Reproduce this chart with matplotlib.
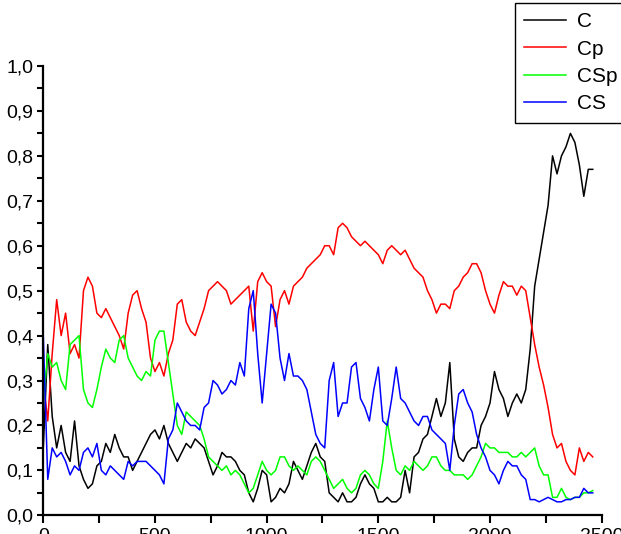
import numpy as np
import matplotlib
matplotlib.use("Agg")
import matplotlib.pyplot as plt
from matplotlib.ticker import MultipleLocator, FuncFormatter

plt.rcParams['font.family'] = ['Liberation Sans', 'DejaVu Sans']

# sampling positions (step 20)
steps = list(range(0, 2461, 20))

C = [0.15, 0.38, 0.22, 0.15, 0.20, 0.14, 0.12, 0.21, 0.11, 0.08,
     0.06, 0.07, 0.11, 0.12, 0.16, 0.14, 0.18, 0.15, 0.13, 0.13,
     0.10, 0.12, 0.14, 0.16, 0.18, 0.19, 0.17, 0.20, 0.16, 0.14,
     0.12, 0.14, 0.16, 0.15, 0.17, 0.16, 0.15, 0.12, 0.09, 0.11,
     0.14, 0.13, 0.13, 0.12, 0.10, 0.09, 0.05, 0.03, 0.06, 0.10,
     0.09, 0.03, 0.04, 0.06, 0.05, 0.07, 0.12, 0.10, 0.08, 0.11,
     0.14, 0.16, 0.13, 0.12, 0.05, 0.04, 0.03, 0.05, 0.03, 0.03,
     0.04, 0.07, 0.09, 0.07, 0.06, 0.03, 0.03, 0.04, 0.03, 0.03,
     0.04, 0.10, 0.05, 0.13, 0.14, 0.17, 0.18, 0.22, 0.26, 0.22,
     0.25, 0.34, 0.17, 0.13, 0.12, 0.14, 0.15, 0.15, 0.20, 0.22,
     0.25, 0.32, 0.28, 0.26, 0.22, 0.25, 0.27, 0.25, 0.28, 0.37,
     0.51, 0.57, 0.63, 0.69, 0.80, 0.76, 0.80, 0.82, 0.85, 0.83,
     0.78, 0.71, 0.77, 0.77]

Cp = [0.30, 0.21, 0.36, 0.48, 0.40, 0.45, 0.36, 0.38, 0.35, 0.50,
      0.53, 0.51, 0.45, 0.44, 0.46, 0.44, 0.42, 0.40, 0.37, 0.45,
      0.49, 0.50, 0.46, 0.43, 0.35, 0.32, 0.34, 0.31, 0.36, 0.39,
      0.47, 0.48, 0.43, 0.41, 0.40, 0.43, 0.46, 0.50, 0.51, 0.52,
      0.51, 0.50, 0.47, 0.48, 0.49, 0.50, 0.51, 0.41, 0.52, 0.54,
      0.52, 0.51, 0.42, 0.48, 0.50, 0.47, 0.51, 0.52, 0.53, 0.55,
      0.56, 0.57, 0.58, 0.60, 0.60, 0.58, 0.64, 0.65, 0.64, 0.62,
      0.61, 0.60, 0.61, 0.60, 0.59, 0.58, 0.56, 0.59, 0.60, 0.59,
      0.58, 0.59, 0.57, 0.55, 0.54, 0.53, 0.50, 0.48, 0.45, 0.47,
      0.47, 0.46, 0.50, 0.51, 0.53, 0.54, 0.56, 0.56, 0.54, 0.50,
      0.47, 0.45, 0.49, 0.52, 0.51, 0.51, 0.49, 0.51, 0.50, 0.44,
      0.38, 0.33, 0.29, 0.24, 0.18, 0.15, 0.16, 0.12, 0.10, 0.09,
      0.15, 0.12, 0.14, 0.13]

CSp = [0.25, 0.36, 0.33, 0.34, 0.30, 0.28, 0.38, 0.39, 0.40, 0.28,
       0.25, 0.24, 0.28, 0.33, 0.37, 0.35, 0.34, 0.39, 0.40, 0.35,
       0.33, 0.31, 0.30, 0.32, 0.31, 0.39, 0.41, 0.41, 0.34, 0.27,
       0.20, 0.18, 0.23, 0.22, 0.21, 0.20, 0.17, 0.13, 0.12, 0.11,
       0.10, 0.11, 0.09, 0.10, 0.09, 0.07, 0.05, 0.06, 0.09, 0.12,
       0.10, 0.09, 0.10, 0.13, 0.13, 0.11, 0.10, 0.11, 0.10, 0.09,
       0.12, 0.13, 0.12, 0.10, 0.08, 0.06, 0.07, 0.08, 0.06, 0.05,
       0.06, 0.09, 0.10, 0.09, 0.07, 0.06, 0.12, 0.21, 0.15, 0.10,
       0.09, 0.11, 0.10, 0.12, 0.11, 0.10, 0.11, 0.13, 0.13, 0.11,
       0.10, 0.10, 0.09, 0.09, 0.09, 0.08, 0.09, 0.11, 0.13, 0.16,
       0.15, 0.15, 0.14, 0.14, 0.14, 0.13, 0.13, 0.14, 0.13, 0.14,
       0.15, 0.11, 0.09, 0.09, 0.04, 0.04, 0.06, 0.04, 0.035, 0.04,
       0.04, 0.05, 0.05, 0.055]

CS = [0.40, 0.08, 0.15, 0.13, 0.14, 0.12, 0.09, 0.11, 0.10, 0.14,
      0.15, 0.13, 0.16, 0.10, 0.09, 0.11, 0.10, 0.09, 0.08, 0.12,
      0.11, 0.12, 0.12, 0.12, 0.11, 0.10, 0.09, 0.07, 0.17, 0.19,
      0.25, 0.23, 0.21, 0.20, 0.20, 0.19, 0.24, 0.25, 0.30, 0.29,
      0.27, 0.28, 0.30, 0.29, 0.34, 0.31, 0.46, 0.50, 0.36, 0.25,
      0.36, 0.47, 0.45, 0.35, 0.30, 0.36, 0.31, 0.31, 0.30, 0.28,
      0.23, 0.18, 0.16, 0.15, 0.30, 0.34, 0.22, 0.25, 0.25, 0.33,
      0.34, 0.26, 0.24, 0.21, 0.28, 0.33, 0.21, 0.20, 0.26, 0.33,
      0.26, 0.25, 0.23, 0.21, 0.20, 0.22, 0.22, 0.19, 0.18, 0.17,
      0.16, 0.10, 0.20, 0.27, 0.28, 0.25, 0.23, 0.18, 0.15, 0.13,
      0.10, 0.09, 0.07, 0.10, 0.12, 0.11, 0.11, 0.09, 0.08, 0.035,
      0.035, 0.03, 0.035, 0.04, 0.035, 0.03, 0.03, 0.035, 0.035, 0.04,
      0.04, 0.06, 0.05, 0.05]

series_names = ['C', 'Cp', 'CSp', 'CS']
series_colors = ['#000000', '#ff0000', '#00ff00', '#0000ff']
x_ticks = [0, 500, 1000, 1500, 2000, 2500]

fig = plt.figure(figsize=(6.21, 5.34), dpi=100)
ax = fig.add_axes([0.0697, 0.035, 0.8992, 0.8414])

for vals, name, col in zip([C, Cp, CSp, CS], series_names, series_colors):
    ax.plot(steps, vals, color=col, lw=1.1, label=name)

ax.set_xlim(0, 2500)
ax.set_ylim(0, 1.0)

for side in ('top', 'right'):
    ax.spines[side].set_visible(False)
for side in ('left', 'bottom'):
    ax.spines[side].set_linewidth(1.6)

ax.set_xticks(x_ticks)
ax.set_xticklabels([str(t) for t in x_ticks])
ax.xaxis.set_minor_locator(MultipleLocator(250))
ax.yaxis.set_major_locator(MultipleLocator(0.1))
ax.yaxis.set_minor_locator(MultipleLocator(0.05))
ax.yaxis.set_major_formatter(FuncFormatter(lambda v, p: f"{v:.1f}".replace('.', ',')))

ax.tick_params(axis='both', which='both', direction='out', width=1.5, labelsize=14)
ax.tick_params(axis='x', which='both', length=6, pad=3)
ax.tick_params(axis='y', which='both', length=4, pad=3)

leg = fig.legend(loc='upper left', bbox_to_anchor=(515 / 621, 1 - 3 / 534),
                 bbox_transform=fig.transFigure, fontsize=15, frameon=True,
                 fancybox=False, framealpha=1, edgecolor='black',
                 borderaxespad=0, borderpad=0.45, labelspacing=0.4,
                 handlelength=2.0, handletextpad=0.55)
leg.get_frame().set_linewidth(1.0)

fig.savefig('out.png', dpi=100)
